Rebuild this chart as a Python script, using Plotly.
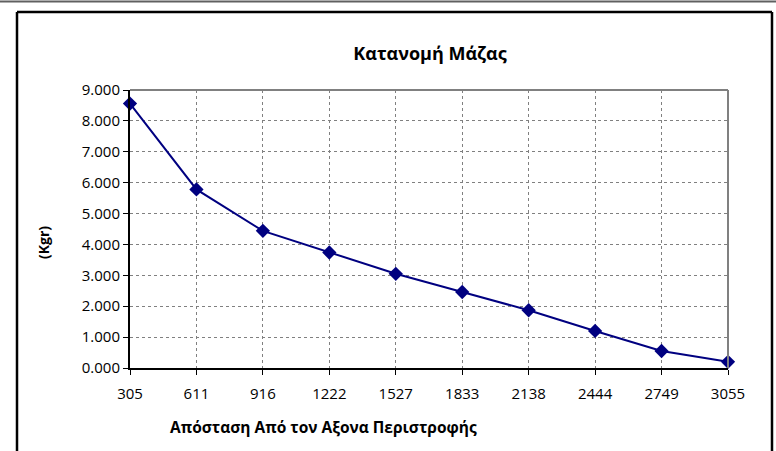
"""Κατανομή Μάζας - διάγραμμα γραμμής"""

import plotly.graph_objects as go

# Δεδομένα
apostasi = ["305", "611", "916", "1222", "1527", "1833", "2138", "2444", "2749", "3055"]
maza = [8.56, 5.78, 4.44, 3.74, 3.05, 2.46, 1.87, 1.20, 0.55, 0.20]
y_ticks = [0, 1, 2, 3, 4, 5, 6, 7, 8, 9]

W, H = 776, 451
L, R, T, B = 130, 48, 90, 83
pw, ph = W - L - R, H - T - B


def px_x(x):
    return (x - L) / pw


def px_y(y):
    return (H - B - y) / ph


FONT = "Open Sans"
NAVY = "#000080"

fig = go.Figure()

fig.add_trace(go.Scatter(
    x=apostasi, y=maza,
    mode="lines+markers",
    line=dict(color=NAVY, width=2),
    marker=dict(symbol="diamond", size=11, color=NAVY),
    cliponaxis=False,
    showlegend=False,
))

# Περίγραμμα περιοχής σχεδίασης (πάνω / δεξιά γκρι)
fig.add_shape(type="line", xref="paper", yref="paper", x0=0, x1=1, y0=1, y1=1,
              line=dict(color="#808080", width=2))
fig.add_shape(type="line", xref="paper", yref="paper", x0=1, x1=1, y0=0, y1=1,
              line=dict(color="#808080", width=2))

# Εξωτερικό πλαίσιο
fig.add_shape(type="line", xref="paper", yref="paper",
              x0=px_x(17), x1=px_x(17), y0=px_y(12), y1=px_y(460),
              line=dict(color="black", width=2.5))
fig.add_shape(type="line", xref="paper", yref="paper",
              x0=px_x(772), x1=px_x(772), y0=px_y(12), y1=px_y(460),
              line=dict(color="black", width=2.5))
fig.add_shape(type="line", xref="paper", yref="paper",
              x0=px_x(17), x1=px_x(772), y0=px_y(12), y1=px_y(12),
              line=dict(color="black", width=2.5))
fig.add_shape(type="line", xref="paper", yref="paper",
              x0=px_x(0), x1=px_x(776), y0=px_y(1.5), y1=px_y(1.5),
              line=dict(color="#606060", width=2))

# Τίτλοι αξόνων
fig.add_annotation(
    text="<b>Απόσταση Από τον Αξονα Περιστροφής</b>",
    xref="paper", yref="paper", x=px_x(323), y=px_y(427),
    xanchor="center", yanchor="middle", showarrow=False,
    font=dict(family=FONT, size=15.5, color="black"),
)
fig.add_annotation(
    text="<b>(Kgr)</b>",
    xref="paper", yref="paper", x=px_x(43), y=px_y(243),
    xanchor="center", yanchor="middle", showarrow=False, textangle=-90,
    font=dict(family=FONT, size=14, color="black"),
)

fig.update_layout(
    width=W, height=H,
    margin=dict(l=L, r=R, t=T, b=B),
    paper_bgcolor="white",
    plot_bgcolor="white",
    font=dict(family=FONT, size=15, color="black"),
    title=dict(
        text="<b>Κατανομή Μάζας</b>",
        x=px_x(430), xref="paper", xanchor="center",
        y=1 - 54 / H, yref="container", yanchor="middle",
        font=dict(family=FONT, size=18, color="black"),
    ),
    xaxis=dict(
        type="category",
        range=[0, len(apostasi) - 1],
        showgrid=True, gridcolor="#808080", griddash="dot", gridwidth=1,
        showline=True, linecolor="black", linewidth=2,
        ticks="outside", ticklen=5, tickcolor="black",
        ticklabelstandoff=6,
        tickfont=dict(family=FONT, size=15),
        zeroline=False,
    ),
    yaxis=dict(
        range=[0, 9],
        tickvals=y_ticks,
        tickformat=".3f",
        showgrid=True, gridcolor="#808080", griddash="dot", gridwidth=1,
        showline=True, linecolor="black", linewidth=2,
        ticks="outside", ticklen=5, tickcolor="black",
        tickfont=dict(family=FONT, size=15),
        zeroline=False,
    ),
)

fig.write_html("out.html", config={"displayModeBar": False},
               post_script="document.body.style.margin='0';")
